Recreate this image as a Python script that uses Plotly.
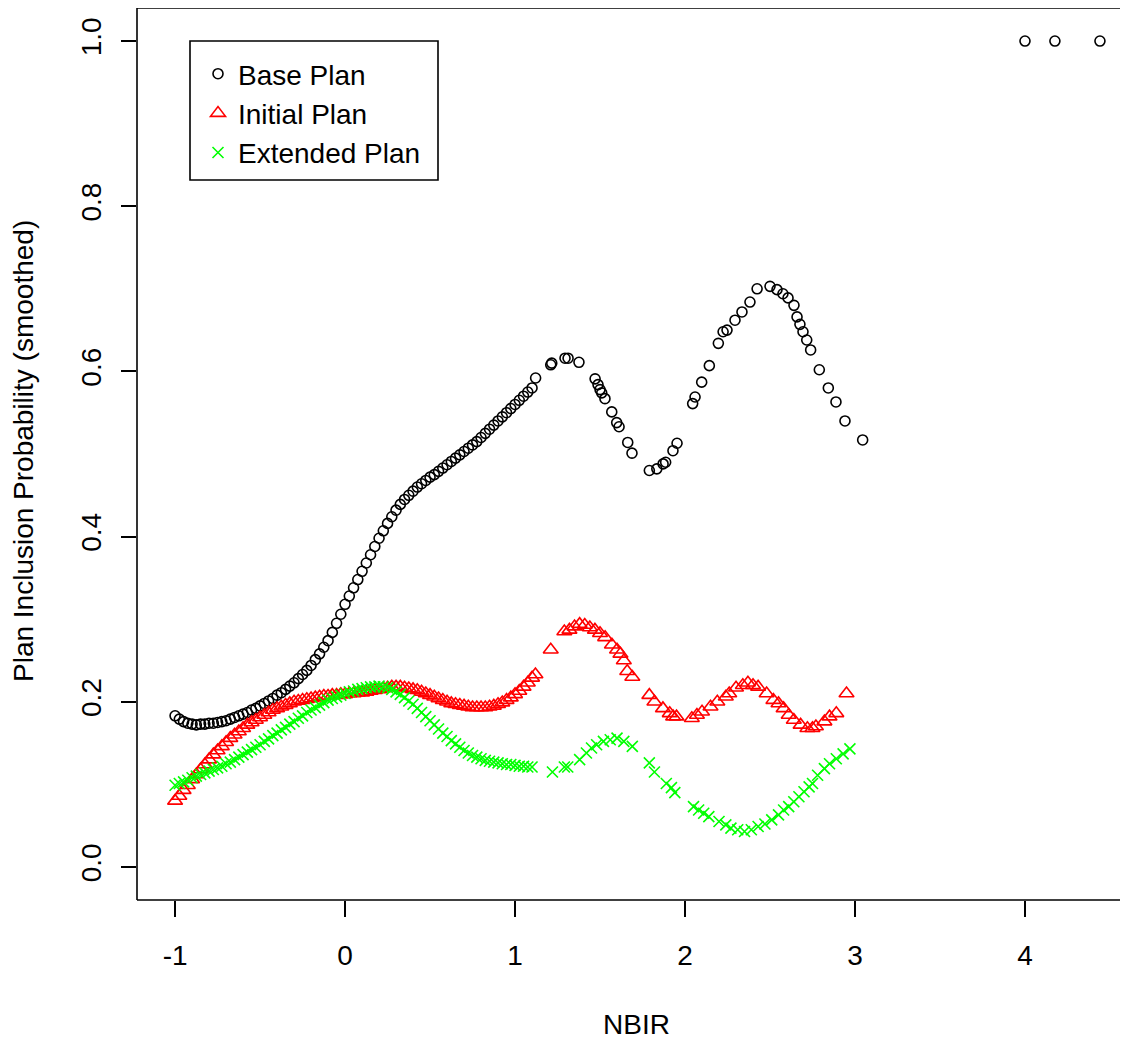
import plotly.graph_objects as go

# ---- data ----
dense_x = [-1.000, -0.975, -0.950, -0.925, -0.900, -0.875, -0.850, -0.825, -0.800, -0.775,
           -0.750, -0.725, -0.700, -0.675, -0.650, -0.625, -0.600, -0.575, -0.550, -0.525,
           -0.500, -0.475, -0.450, -0.425, -0.400, -0.375, -0.350, -0.325, -0.300, -0.275,
           -0.250, -0.225, -0.200, -0.175, -0.150, -0.125, -0.100, -0.075, -0.050, -0.025,
           0.000, 0.025, 0.050, 0.075, 0.100, 0.125, 0.150, 0.175, 0.200, 0.225,
           0.250, 0.275, 0.300, 0.325, 0.350, 0.375, 0.400, 0.425, 0.450, 0.475,
           0.500, 0.525, 0.550, 0.575, 0.600, 0.625, 0.650, 0.675, 0.700, 0.725,
           0.750, 0.775, 0.800, 0.825, 0.850, 0.875, 0.900, 0.925, 0.950, 0.975,
           1.000, 1.025, 1.050, 1.075, 1.100]

base_dense_y = [0.183, 0.179, 0.176, 0.174, 0.173, 0.172, 0.173, 0.173, 0.174, 0.174,
                0.175, 0.176, 0.177, 0.179, 0.181, 0.183, 0.185, 0.187, 0.190, 0.192,
                0.195, 0.198, 0.201, 0.204, 0.208, 0.211, 0.215, 0.219, 0.223, 0.228,
                0.233, 0.238, 0.244, 0.251, 0.258, 0.266, 0.274, 0.284, 0.295, 0.306,
                0.318, 0.328, 0.338, 0.348, 0.358, 0.368, 0.378, 0.388, 0.398, 0.407,
                0.416, 0.424, 0.432, 0.439, 0.445, 0.450, 0.455, 0.460, 0.464, 0.468,
                0.472, 0.475, 0.479, 0.483, 0.487, 0.491, 0.495, 0.499, 0.503, 0.507,
                0.511, 0.515, 0.520, 0.525, 0.530, 0.535, 0.540, 0.545, 0.550, 0.555,
                0.560, 0.565, 0.570, 0.575, 0.580]
base_sparse_x = [1.121, 1.210, 1.216, 1.294, 1.312, 1.376, 1.471, 1.488, 1.500, 1.510,
                 1.529, 1.569, 1.598, 1.612, 1.663, 1.688, 1.790, 1.834, 1.871, 1.886,
                 1.929, 1.953, 2.045, 2.059, 2.098, 2.143, 2.196, 2.224, 2.247, 2.294,
                 2.335, 2.382, 2.424, 2.500, 2.541, 2.576, 2.606, 2.641, 2.659, 2.676,
                 2.694, 2.716, 2.739, 2.790, 2.843, 2.888, 2.941, 3.045,
                 4.000, 4.176, 4.441]
base_sparse_y = [0.592, 0.608, 0.610, 0.616, 0.616, 0.611, 0.591, 0.584, 0.578, 0.574,
                 0.567, 0.551, 0.538, 0.533, 0.514, 0.501, 0.480, 0.482, 0.488, 0.490,
                 0.504, 0.513, 0.561, 0.569, 0.587, 0.607, 0.634, 0.648, 0.650, 0.662,
                 0.672, 0.684, 0.700, 0.703, 0.699, 0.694, 0.689, 0.680, 0.666, 0.657,
                 0.648, 0.638, 0.626, 0.602, 0.580, 0.563, 0.540, 0.517,
                 1.000, 1.000, 1.000]

init_dense_y = [0.080, 0.086, 0.093, 0.099, 0.106, 0.112, 0.118, 0.124, 0.130, 0.136,
                0.141, 0.146, 0.151, 0.156, 0.160, 0.164, 0.168, 0.172, 0.175, 0.178,
                0.181, 0.184, 0.187, 0.190, 0.192, 0.194, 0.196, 0.198, 0.200, 0.201,
                0.202, 0.203, 0.204, 0.205, 0.206, 0.207, 0.207, 0.208, 0.208, 0.209,
                0.209, 0.210, 0.210, 0.211, 0.211, 0.212, 0.213, 0.214, 0.215, 0.216,
                0.217, 0.218, 0.218, 0.218, 0.217, 0.216, 0.215, 0.214, 0.212, 0.210,
                0.208, 0.206, 0.204, 0.202, 0.200, 0.198, 0.197, 0.196, 0.195, 0.194,
                0.193, 0.193, 0.193, 0.193, 0.194, 0.195, 0.197, 0.199, 0.202, 0.205,
                0.209, 0.213, 0.218, 0.223, 0.229]
init_sparse_x = [1.12, 1.21, 1.29, 1.32, 1.35, 1.38, 1.41, 1.44, 1.47, 1.50,
                 1.53, 1.57, 1.60, 1.62, 1.64, 1.66, 1.69, 1.79, 1.82, 1.87,
                 1.91, 1.93, 1.95, 2.04, 2.07, 2.10, 2.15, 2.19, 2.24, 2.26,
                 2.30, 2.34, 2.37, 2.40, 2.43, 2.48, 2.52, 2.55, 2.58, 2.61,
                 2.64, 2.68, 2.72, 2.75, 2.77, 2.82, 2.85, 2.89, 2.95]
init_sparse_y = [0.233, 0.263, 0.285, 0.287, 0.291, 0.294, 0.293, 0.290, 0.287, 0.283,
                 0.278, 0.269, 0.263, 0.258, 0.250, 0.237, 0.230, 0.208, 0.200, 0.192,
                 0.186, 0.182, 0.182, 0.180, 0.184, 0.188, 0.194, 0.200, 0.206, 0.210,
                 0.217, 0.220, 0.223, 0.220, 0.218, 0.210, 0.202, 0.198, 0.192, 0.184,
                 0.178, 0.172, 0.168, 0.168, 0.170, 0.176, 0.182, 0.186, 0.210]

ext_dense_y = [0.099, 0.101, 0.103, 0.105, 0.108, 0.110, 0.112, 0.114, 0.116, 0.118,
               0.120, 0.122, 0.125, 0.127, 0.130, 0.133, 0.136, 0.139, 0.142, 0.145,
               0.148, 0.152, 0.155, 0.159, 0.162, 0.166, 0.169, 0.173, 0.176, 0.180,
               0.183, 0.187, 0.190, 0.193, 0.196, 0.199, 0.202, 0.204, 0.206, 0.208,
               0.210, 0.212, 0.213, 0.215, 0.216, 0.217, 0.218, 0.218, 0.219, 0.218,
               0.217, 0.215, 0.212, 0.209, 0.205, 0.201, 0.197, 0.192, 0.187, 0.182,
               0.177, 0.172, 0.167, 0.162, 0.158, 0.153, 0.149, 0.145, 0.141, 0.138,
               0.135, 0.133, 0.131, 0.129, 0.128, 0.127, 0.126, 0.125, 0.124, 0.124,
               0.123, 0.122, 0.122, 0.121, 0.121]
ext_sparse_x = [1.22, 1.29, 1.31, 1.38, 1.42, 1.45, 1.48, 1.52, 1.56, 1.60,
                1.64, 1.69, 1.79, 1.82, 1.89, 1.92, 1.94, 2.05, 2.08, 2.11,
                2.14, 2.20, 2.24, 2.27, 2.31, 2.35, 2.39, 2.43, 2.47, 2.51,
                2.55, 2.58, 2.61, 2.64, 2.67, 2.70, 2.73, 2.75, 2.78, 2.82,
                2.85, 2.89, 2.93, 2.97]
ext_sparse_y = [0.115, 0.121, 0.121, 0.130, 0.138, 0.144, 0.148, 0.152, 0.154, 0.156,
                0.152, 0.146, 0.126, 0.115, 0.101, 0.096, 0.090, 0.073, 0.069, 0.065,
                0.061, 0.055, 0.051, 0.047, 0.045, 0.043, 0.045, 0.049, 0.052, 0.057,
                0.063, 0.069, 0.073, 0.079, 0.085, 0.091, 0.097, 0.101, 0.111, 0.119,
                0.125, 0.131, 0.137, 0.143]

series_names = ["Base Plan", "Initial Plan", "Extended Plan"]
x_tick_vals = [-1, 0, 1, 2, 3, 4]
x_tick_text = ["-1", "0", "1", "2", "3", "4"]
y_tick_vals = [0.0, 0.2, 0.4, 0.6, 0.8, 1.0]
y_tick_text = ["0.0", "0.2", "0.4", "0.6", "0.8", "1.0"]

FONT = "Liberation Sans, Arial, sans-serif"
FS = 28

fig = go.Figure()
fig.add_trace(go.Scatter(
    x=dense_x + base_sparse_x, y=base_dense_y + base_sparse_y, mode="markers",
    name=series_names[0],
    marker=dict(symbol="circle-open", size=10, color="black", line=dict(width=1.6, color="black"))))
fig.add_trace(go.Scatter(
    x=dense_x + init_sparse_x, y=init_dense_y + init_sparse_y, mode="markers",
    name=series_names[1],
    marker=dict(symbol="triangle-up-open", size=13, color="#FF0000", line=dict(width=1.6, color="#FF0000"))))
fig.add_trace(go.Scatter(
    x=dense_x + ext_sparse_x, y=ext_dense_y + ext_sparse_y, mode="markers",
    name=series_names[2],
    marker=dict(symbol="x-thin-open", size=11, color="#00FF00", line=dict(width=1.6, color="#00FF00"))))

# page has an 8px body margin; figure is placed at (8, 8)
OFF = 8
W, H = 1120, 1031
# plot area in page pixels
PX0, PX1, PY0, PY1 = 137, 1128, 8, 900
PW, PH = PX1 - PX0, PY1 - PY0


def px(xp):
    return (xp - PX0) / PW


def py(yp):
    return (PY1 - yp) / PH


fig.update_layout(
    width=W, height=H,
    margin=dict(l=PX0 - OFF, r=OFF + W - PX1, t=PY0 - OFF, b=OFF + H - PY1, pad=0),
    paper_bgcolor="white", plot_bgcolor="white",
    font=dict(family=FONT, size=FS, color="black"),
    showlegend=True,
    legend=dict(
        x=px(198), y=py(49),
        xanchor="left", yanchor="top",
        borderwidth=0, bgcolor="rgba(0,0,0,0)",
        font=dict(family=FONT, size=FS, color="black"),
        tracegroupgap=0,
    ),
    xaxis=dict(
        range=[-1.224, 4.606], showgrid=False, zeroline=False, showline=False,
        tickmode="array", tickvals=x_tick_vals, ticktext=x_tick_text,
        ticks="outside", ticklen=16, tickwidth=1.5, tickcolor="black",
        ticklabelstandoff=14,
        tickfont=dict(family=FONT, size=FS, color="black"),
    ),
    yaxis=dict(
        range=[-0.04, 1.04], showgrid=False, zeroline=False, showline=False,
        tickmode="array", tickvals=y_tick_vals, ticktext=y_tick_text,
        ticks="outside", ticklen=15, tickwidth=1.5, tickcolor="black",
        tickangle=-90, ticklabelstandoff=9,
        tickfont=dict(family=FONT, size=FS, color="black"),
    ),
    shapes=[
        # plot frame (right edge lies just outside the window)
        dict(type="line", xref="paper", yref="paper", x0=0, x1=0, y0=0, y1=1,
             line=dict(color="black", width=1.6)),
        dict(type="line", xref="paper", yref="paper", x0=0, x1=1.01, y0=1, y1=1,
             line=dict(color="black", width=1.6)),
        dict(type="line", xref="paper", yref="paper", x0=0, x1=1.01, y0=0, y1=0,
             line=dict(color="black", width=1.6)),
        # legend frame
        dict(type="rect", xref="paper", yref="paper",
             x0=px(190), x1=px(438), y0=py(180), y1=py(41),
             line=dict(color="black", width=1.6), fillcolor="rgba(0,0,0,0)", layer="below"),
    ],
    annotations=[
        dict(text="NBIR", xref="paper", yref="paper",
             x=px(636), y=py(1024),
             xanchor="center", yanchor="middle", showarrow=False,
             font=dict(family=FONT, size=FS, color="black")),
        dict(text="Plan Inclusion Probability (smoothed)", xref="paper", yref="paper",
             x=px(23), y=py(451),
             xanchor="center", yanchor="middle", textangle=-90, showarrow=False,
             font=dict(family=FONT, size=FS, color="black")),
    ],
)

fig.write_html("out.html")
